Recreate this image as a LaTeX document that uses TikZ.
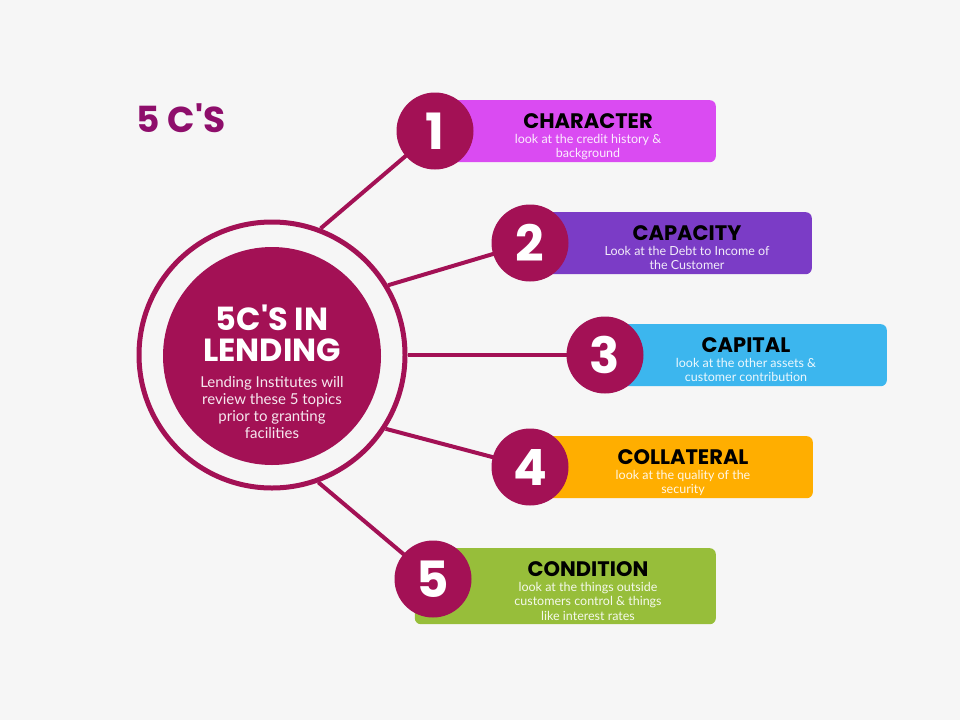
\documentclass[tikz,border=0pt]{standalone}
\usepackage{fontspec}
\setmainfont{Poppins}[Ligatures=TeXOff]
\newfontfamily\bodyfont{Lato}
\usepackage{tikz}
\usetikzlibrary{positioning}
\definecolor{bgcol}{HTML}{F6F6F6}
\definecolor{maincol}{HTML}{A31155}
\definecolor{headcol}{HTML}{8E0E6B}
\definecolor{charcol}{HTML}{DA4BF2}
\definecolor{capacol}{HTML}{7B3CC6}
\definecolor{capicol}{HTML}{3CB6EE}
\definecolor{collcol}{HTML}{FFAE00}
\definecolor{condcol}{HTML}{97BE3A}
\tikzset{
    topic-box/.style = {rectangle, rounded corners=6pt, anchor=north east, inner sep=0pt},
    num-circle/.style = {circle, fill=maincol, minimum size=77pt, inner sep=0pt, text=white, font=\bfseries\fontsize{50}{50}\selectfont},
    topic-title/.style = {inner sep=0pt, font=\bfseries\fontsize{21}{21}\selectfont},
    topic-text/.style = {inner sep=0pt, text=white, text opacity=0.9, align=center, font=\bodyfont\fontsize{12.5}{14.5}\selectfont},
    link/.style = {draw=maincol, line width=4pt},
}

\begin{document}
\begin{tikzpicture}[x=1pt,y=-1pt]
\fill[bgcol] (0,0) rectangle (960,720);
\useasboundingbox (0,0) rectangle (960,720);
\node[inner sep=0pt, text=headcol, font=\bfseries\fontsize{36}{36}\selectfont] (heading) at (181,118) {5 C'S};

% centre
\node[circle, draw=maincol, line width=5pt, minimum size=266pt] (ring) at (272,355) {};
\node[circle, fill=maincol, minimum size=218pt] (core) at (272,356) {};
\node[inner sep=0pt, text=white, align=center, font=\bfseries\fontsize{32}{31}\selectfont] (coretitle) at (272,333) {5C'S IN\\LENDING};
\node[inner sep=0pt, text=white, text opacity=0.9, align=center, font=\bodyfont\fontsize{15}{17}\selectfont, below=15pt of coretitle] (coretext) {Lending Institutes will\\review these 5 topics\\prior to granting\\facilities};

% boxes
\node[topic-box, fill=charcol, minimum width=280pt, minimum height=62pt] (box1) at (716,100) {};
\node[topic-box, fill=capacol, minimum width=280pt, minimum height=62pt] (box2) at (812,212) {};
\node[topic-box, fill=capicol, minimum width=280pt, minimum height=62pt] (box3) at (887,324) {};
\node[topic-box, fill=collcol, minimum width=280pt, minimum height=62pt] (box4) at (813,436) {};
\node[topic-box, fill=condcol, minimum width=301pt, minimum height=76pt] (box5) at (716,548) {};

% connectors
\draw[link] (ring.69) -- (435,131) coordinate (c1);
\draw[link] (ring.31) -- (530,243) coordinate (c2);
\draw[link] (ring.0) -- (605,355) coordinate (c3);
\draw[link] (ring.-33) -- (530,467) coordinate (c4);
\draw[link] (ring.-70) -- (433,579) coordinate (c5);

% numbers
\node[num-circle] (n1) at (c1) {1};
\node[num-circle] (n2) at (c2) {2};
\node[num-circle] (n3) at (c3) {3};
\node[num-circle] (n4) at (c4) {4};
\node[num-circle] (n5) at (c5) {5};

% texts
\node[topic-title] (title1) at (588,121) {CHARACTER};
\node[topic-text, below=5pt of title1] (text1) {look at the credit history \&\\background};
\node[topic-title] (title2) at (687,233) {CAPACITY};
\node[topic-text, below=5pt of title2] (text2) {Look at the Debt to Income of\\the Customer};
\node[topic-title] (title3) at (746,345) {CAPITAL};
\node[topic-text, below=5pt of title3] (text3) {look at the other assets \&\\customer contribution};
\node[topic-title] (title4) at (683,457) {COLLATERAL};
\node[topic-text, below=5pt of title4] (text4) {look at the quality of the\\security};
\node[topic-title] (title5) at (588,569) {CONDITION};
\node[topic-text, below=5pt of title5] (text5) {look at the things outside\\customers control \& things\\like interest rates};
\end{tikzpicture}
\end{document}
